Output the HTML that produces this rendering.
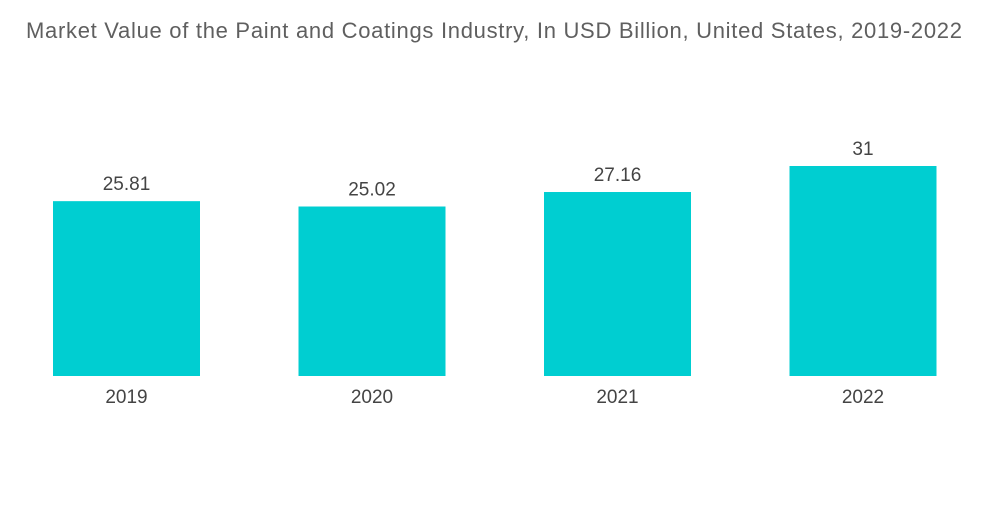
<!DOCTYPE html>
<html><head><meta charset="utf-8"><style>
body{margin:0;background:#fff;width:1000px;height:504px;overflow:hidden;font-family:"Liberation Sans",sans-serif}
</style></head><body>
<svg width="1000" height="504">
<text x="26" y="38" font-size="22" fill="#5f5f5f" textLength="936" lengthAdjust="spacing">Market Value of the Paint and Coatings Industry,  In USD Billion, United States, 2019-2022</text>
<g id="bars"></g>
</svg>
<script>
const categories=["2019","2020","2021","2022"];
const values=[25.81,25.02,27.16,31];
const labels=["25.81","25.02","27.16","31"];
const baseY=376, pxPerUnit=210/31, barW=147, step=245.5, x0=53;
const y=v=>baseY-v*pxPerUnit;
const g=document.getElementById('bars');
const ns='http://www.w3.org/2000/svg';
categories.forEach((c,i)=>{
  const x=x0+i*step;
  const r=document.createElementNS(ns,'rect');
  r.setAttribute('x',x);r.setAttribute('y',y(values[i]));r.setAttribute('width',barW);r.setAttribute('height',baseY-y(values[i]));r.setAttribute('fill','#00ced1');
  
  
  g.appendChild(r);
  const t=document.createElementNS(ns,'text');
  t.setAttribute('x',x+barW/2);t.setAttribute('y',y(values[i])-11);t.setAttribute('text-anchor','middle');t.setAttribute('font-size','19');t.setAttribute('fill','#444');
  t.textContent=labels[i];
  
  
  g.appendChild(t);
  const a=document.createElementNS(ns,'text');
  a.setAttribute('x',x+barW/2);a.setAttribute('y',403);a.setAttribute('text-anchor','middle');a.setAttribute('font-size','19');a.setAttribute('fill','#444');
  a.textContent=c;
  
  
  g.appendChild(a);
});
</script>
</body></html>
